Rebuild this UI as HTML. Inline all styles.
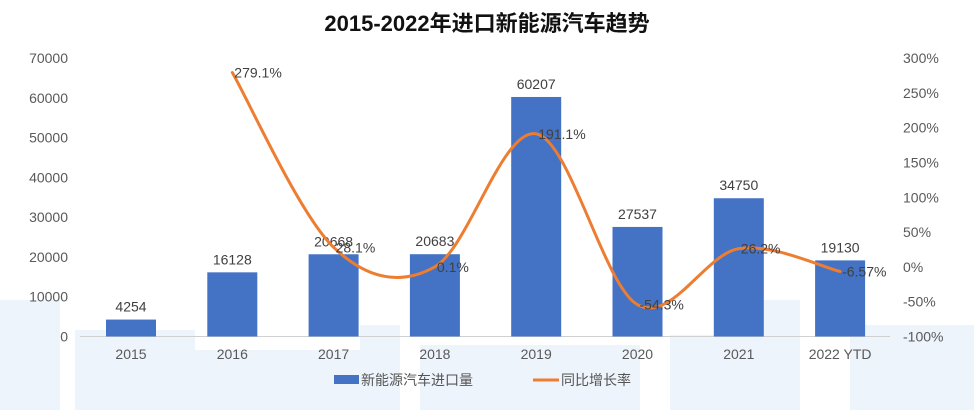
<!DOCTYPE html>
<html><head><meta charset="utf-8"><style>
body{margin:0;background:#fff;}
svg{display:block;font-family:"Liberation Sans","Noto Sans CJK SC",sans-serif;}
</style></head><body>
<svg width="974" height="410" viewBox="0 0 974 410">
<g fill="#eef4fb">
<rect x="0" y="300" width="60" height="110"/><rect x="75" y="330" width="120" height="80"/>
<rect x="140" y="350" width="260" height="60"/><rect x="360" y="325" width="40" height="85"/>
<rect x="420" y="345" width="220" height="65"/><rect x="670" y="335" width="90" height="75"/>
<rect x="760" y="300" width="40" height="110"/><rect x="850" y="325" width="124" height="85"/>
</g>
<text x="487" y="31" text-anchor="middle" font-size="22" font-weight="bold" fill="#111">2015-2022年进口新能源汽车趋势</text>
<g id="leftAxis"></g>
<g id="rightAxis"></g>
<line x1="80" y1="336.5" x2="890" y2="336.5" stroke="#d0d0d0"/>
<g id="bars"></g>
<g id="line"></g>
<g id="xAxis"></g>
<g>
<g><rect x="334" y="375" width="25" height="9" fill="#4472c4"/>
<text x="361" y="385" font-size="14" fill="#555">新能源汽车进口量</text></g>
<g><line x1="533" y1="380" x2="559" y2="380" stroke="#ed7d31" stroke-width="3"/>
<text x="561" y="385" font-size="14" fill="#555">同比增长率</text></g>
</g>
</svg>
<script>
const categories=["2015","2016","2017","2018","2019","2020","2021","2022 YTD"];
const volumes=[4254,16128,20668,20683,60207,27537,34750,19130];
const growth=[null,279.1,28.1,0.1,191.1,-54.3,26.2,-6.57];
const growthLabels=["","279.1%","28.1%","0.1%","191.1%","-54.3%","26.2%","-6.57%"];
const leftTicks=[0,10000,20000,30000,40000,50000,60000,70000];
const rightTicks=[-100,-50,0,50,100,150,200,250,300];
const NS="http://www.w3.org/2000/svg";
const y0=336.5,yTop=58;
const yL=v=>y0-(v/70000)*(y0-yTop);
const yR=v=>y0-((v+100)/400)*(y0-yTop);
const xC=i=>131+i*101.3;
function mk(tag,attrs,parent,txt){const e=document.createElementNS(NS,tag);for(const k in attrs)e.setAttribute(k,attrs[k]);if(txt!==undefined)e.textContent=txt;parent.appendChild(e);return e;}
const la=document.getElementById('leftAxis');
leftTicks.forEach(t=>{const e=mk('text',{x:68,y:yL(t)+5,'text-anchor':'end','font-size':14,fill:'#595959'},la,String(t));

});
const ra=document.getElementById('rightAxis');
rightTicks.forEach(t=>{const e=mk('text',{x:903,y:yR(t)+5,'font-size':14,fill:'#595959'},ra,t+'%');

});
const xa=document.getElementById('xAxis');
categories.forEach((c,i)=>{const e=mk('text',{x:xC(i),y:359,'text-anchor':'middle','font-size':14,fill:'#595959'},xa,c);

});
const bg=document.getElementById('bars');
volumes.forEach((v,i)=>{const r=mk('rect',{x:xC(i)-25,y:yL(v),width:50,height:y0-yL(v),fill:'#4472c4'},bg);


const t=mk('text',{x:xC(i),y:yL(v)-8,'text-anchor':'middle','font-size':14,fill:'#404040'},bg,String(v));

});
const lg=document.getElementById('line');
const pts=[];growth.forEach((g,i)=>{if(g!==null)pts.push([xC(i),yR(g)]);});
let d='M'+pts[0][0]+','+pts[0][1];
for(let i=0;i<pts.length-1;i++){const p0=pts[i-1]||pts[i],p1=pts[i],p2=pts[i+1],p3=pts[i+2]||p2;
const c1=[p1[0]+(p2[0]-p0[0])/6,p1[1]+(p2[1]-p0[1])/6],c2=[p2[0]-(p3[0]-p1[0])/6,p2[1]-(p3[1]-p1[1])/6];
d+=' C'+c1+' '+c2+' '+p2;}
const path=mk('path',{d:d,fill:'none',stroke:'#ed7d31','stroke-width':3,'stroke-linecap':'round'},lg);


growth.forEach((g,i)=>{if(g===null)return;const t=mk('text',{x:xC(i)+2,y:yR(g)+5,'font-size':14,fill:'#404040'},lg,growthLabels[i]);

});
</script>
</body></html>
